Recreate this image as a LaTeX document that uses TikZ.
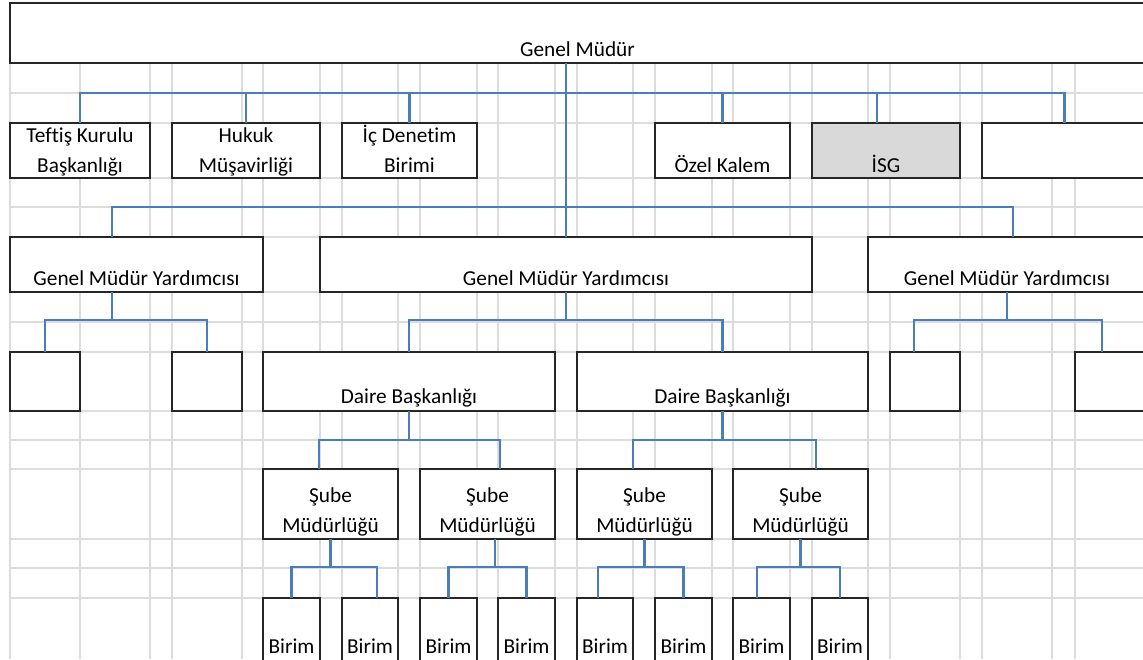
\documentclass[tikz,border=0pt]{standalone}
\usepackage{fontspec}
\setmainfont[Ligatures=NoCommon]{Carlito}
\definecolor{baglanti}{RGB}{74,126,187}
\definecolor{izgara}{RGB}{220,220,220}
\definecolor{isggri}{RGB}{217,217,217}
\begin{document}
\begin{tikzpicture}[x=1pt, y=-1pt,
		box/.style={rectangle, draw=black!85, line width=1.5pt, fill=white, inner sep=0pt, outer sep=0pt, anchor=north west, align=center, font=\fontsize{21.3}{30}\selectfont},
		conn/.style={draw=baglanti, line width=2.4pt}
		]
		\useasboundingbox (0,0) rectangle (1143,659);
		\clip (0,0) rectangle (1143,659);
		% cell grid behind the chart
		\foreach \gx in {10,80,150,172,242,263,320,342,398,420,477,498,555,577,633,655,712,733,790,812,868,890,960,982,1052,1075}
			\draw[izgara, line width=1.2pt] (\gx,63) -- (\gx,659);
		\foreach \gy in {63,93,123,178,207,237,292,322,352,411,440,469,539,568,598}
			\draw[izgara, line width=1.2pt] (10,\gy) -- (1143,\gy);
		
		% top box
		\node[box, minimum width=1135pt, minimum height=60pt, text height=53pt, text depth=7pt] (gm) at (10,3) {Genel Müdür};
		
		% units attached to the top
		\node[box, minimum width=140pt, minimum height=55pt, text height=49pt, text depth=6pt] (teftis) at (10,123) {Teftiş Kurulu\\Başkanlığı};
		\node[box, minimum width=148pt, minimum height=55pt, text height=49pt, text depth=6pt] (hukuk) at (172,123) {Hukuk\\Müşavirliği};
		\node[box, minimum width=135pt, minimum height=55pt, text height=49pt, text depth=6pt] (icdenetim) at (342,123) {İç Denetim\\Birimi};
		\node[box, minimum width=135pt, minimum height=55pt, text height=49pt, text depth=6pt] (ozel) at (655,123) {Özel Kalem};
		\node[box, fill=isggri, minimum width=148pt, minimum height=55pt, text height=49pt, text depth=6pt] (isg) at (812,123) {İSG};
		\node[box, minimum width=165pt, minimum height=55pt] (bos) at (982,123) {};
		
		% deputies
		\node[box, minimum width=253pt, minimum height=55pt, text height=48pt, text depth=7pt] (gmyA) at (10,237) {Genel Müdür Yardımcısı};
		\node[box, minimum width=492pt, minimum height=55pt, text height=48pt, text depth=7pt] (gmyB) at (320,237) {Genel Müdür Yardımcısı};
		\node[box, minimum width=278pt, minimum height=55pt, text height=48pt, text depth=7pt] (gmyC) at (868,237) {Genel Müdür Yardımcısı};
		
		% departments
		\node[box, minimum width=70pt, minimum height=59pt] (bosA1) at (10,352) {};
		\node[box, minimum width=70pt, minimum height=59pt] (bosA2) at (172,352) {};
		\node[box, minimum width=292pt, minimum height=59pt, text height=51pt, text depth=8pt] (daire1) at (263,352) {Daire Başkanlığı};
		\node[box, minimum width=291pt, minimum height=59pt, text height=51pt, text depth=8pt] (daire2) at (577,352) {Daire Başkanlığı};
		\node[box, minimum width=70pt, minimum height=59pt] (bosC1) at (890,352) {};
		\node[box, minimum width=100pt, minimum height=59pt] (bosC2) at (1075,352) {};
		
		% branch offices
		\node[box, minimum width=135pt, minimum height=70pt, text height=63pt, text depth=7pt] (sube1) at (263,469) {Şube\\Müdürlüğü};
		\node[box, minimum width=135pt, minimum height=70pt, text height=63pt, text depth=7pt] (sube2) at (420,469) {Şube\\Müdürlüğü};
		\node[box, minimum width=135pt, minimum height=70pt, text height=63pt, text depth=7pt] (sube3) at (577,469) {Şube\\Müdürlüğü};
		\node[box, minimum width=135pt, minimum height=70pt, text height=63pt, text depth=7pt] (sube4) at (733,469) {Şube\\Müdürlüğü};
		
		% units
		\node[box, minimum width=57pt, minimum height=80pt, text height=55pt, text depth=25pt] (birim1) at (263,598) {Birim};
		\node[box, minimum width=56pt, minimum height=80pt, text height=55pt, text depth=25pt] (birim2) at (342,598) {Birim};
		\node[box, minimum width=57pt, minimum height=80pt, text height=55pt, text depth=25pt] (birim3) at (420,598) {Birim};
		\node[box, minimum width=57pt, minimum height=80pt, text height=55pt, text depth=25pt] (birim4) at (498,598) {Birim};
		\node[box, minimum width=56pt, minimum height=80pt, text height=55pt, text depth=25pt] (birim5) at (577,598) {Birim};
		\node[box, minimum width=57pt, minimum height=80pt, text height=55pt, text depth=25pt] (birim6) at (655,598) {Birim};
		\node[box, minimum width=57pt, minimum height=80pt, text height=55pt, text depth=25pt] (birim7) at (733,598) {Birim};
		\node[box, minimum width=56pt, minimum height=80pt, text height=55pt, text depth=25pt] (birim8) at (812,598) {Birim};
		
		% levels of the connector buses
		\coordinate (busA) at (0,93);
		\coordinate (busB) at (0,207);
		\coordinate (busC) at (0,320);
		\coordinate (busD) at (0,440);
		\coordinate (busE) at (0,567);
		
		% Genel Müdür
		\draw[conn] ([xshift=-11.5pt]gm.south) -- (gmyB.north);
		\draw[conn] (teftis.north) |- (bos.north |- busA) -- (bos.north);
		\draw[conn] (hukuk.north) -- (hukuk.north |- busA);
		\draw[conn] (icdenetim.north) -- (icdenetim.north |- busA);
		\draw[conn] (ozel.north) -- (ozel.north |- busA);
		\draw[conn] ([xshift=-9pt]isg.north) -- ([xshift=-9pt]isg.north |- busA);
		\draw[conn] ([xshift=-24.5pt]gmyA.north) |- ([xshift=6pt]gmyC.north |- busB) -- ([xshift=6pt]gmyC.north);
		
		% deputies
		\draw[conn] ([xshift=-24.5pt]gmyA.south) -- ([xshift=-24.5pt]gmyA.south |- busC);
		\draw[conn] (bosA1.north) |- (bosA2.north |- busC) -- (bosA2.north);
		\draw[conn] (gmyB.south) -- (gmyB.south |- busC);
		\draw[conn] (daire1.north) |- (daire2.north |- busC) -- (daire2.north);
		\draw[conn] (gmyC.south) -- (gmyC.south |- busC);
		\draw[conn] ([xshift=-11pt]bosC1.north) |- ([xshift=-23pt]bosC2.north |- busC) -- ([xshift=-23pt]bosC2.north);
		
		% departments
		\draw[conn] (daire1.south) -- (daire1.south |- busD);
		\draw[conn] ([xshift=-11.5pt]sube1.north) |- ([xshift=12.5pt]sube2.north |- busD) -- ([xshift=12.5pt]sube2.north);
		\draw[conn] (daire2.south) -- (daire2.south |- busD);
		\draw[conn] ([xshift=-11.5pt]sube3.north) |- ([xshift=15.5pt]sube4.north |- busD) -- ([xshift=15.5pt]sube4.north);
		
		% branch offices
		\draw[conn] (sube1.south) -- (sube1.south |- busE);
		\draw[conn] (birim1.north) |- ([xshift=7pt]birim2.north |- busE) -- ([xshift=7pt]birim2.north);
		\draw[conn] ([xshift=7.5pt]sube2.south) -- ([xshift=7.5pt]sube2.south |- busE);
		\draw[conn] (birim3.north) |- (birim4.north |- busE) -- (birim4.north);
		\draw[conn] (sube3.south) -- (sube3.south |- busE);
		\draw[conn] ([xshift=-7pt]birim5.north) |- (birim6.north |- busE) -- (birim6.north);
		\draw[conn] (sube4.south) -- (sube4.south |- busE);
		\draw[conn] ([xshift=-4.5pt]birim7.north) |- (birim8.north |- busE) -- (birim8.north);
	\end{tikzpicture}
\end{document}
